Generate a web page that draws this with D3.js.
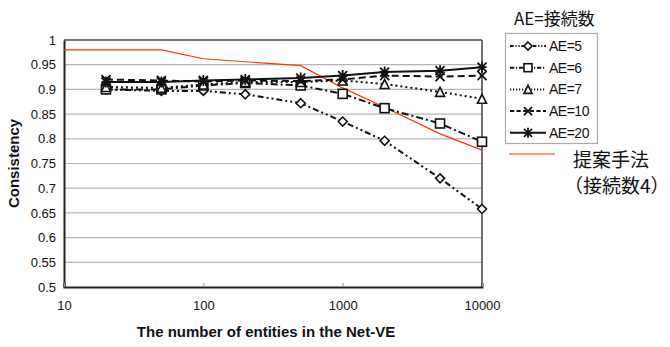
<!DOCTYPE html>
<html>
<head>
<meta charset="utf-8">
<script src="https://cdn.jsdelivr.net/npm/d3@7"></script>
<style>
  body { margin: 0; background: #fff; }
  text { font-family: "Liberation Sans", Arial, sans-serif; }
  .cjk { font-family: "Noto Sans CJK JP", sans-serif; }
</style>
</head>
<body>
<div id="chart"></div>
<script>
const entities = [20, 50, 100, 200, 500, 1000, 2000, 5000, 10000];
const ae5 = [0.900, 0.897, 0.897, 0.890, 0.872, 0.835, 0.796, 0.720, 0.658];
const ae6 = [0.900, 0.900, 0.908, 0.913, 0.908, 0.891, 0.862, 0.831, 0.794];
const ae7 = [0.905, 0.903, 0.910, 0.915, 0.915, 0.918, 0.911, 0.895, 0.881];
const ae10 = [0.920, 0.918, 0.916, 0.918, 0.917, 0.920, 0.928, 0.926, 0.928];
const ae20 = [0.915, 0.915, 0.918, 0.920, 0.923, 0.928, 0.935, 0.938, 0.945];
const proposed_x = [10, 50, 100, 500, 1000, 2000, 5000, 10000];
const proposed_y = [0.980, 0.980, 0.962, 0.948, 0.903, 0.864, 0.810, 0.777];
const y_ticks = [0.5, 0.55, 0.6, 0.65, 0.7, 0.75, 0.8, 0.85, 0.9, 0.95, 1];
const x_ticks = [10, 100, 1000, 10000];

const series = [
  { name: 'AE=5', values: ae5, dash: '6,3,2,3,2,3', marker: 'diamond' },
  { name: 'AE=6', values: ae6, dash: '7,3,2,3', marker: 'square' },
  { name: 'AE=7', values: ae7, dash: '2,3', marker: 'triangle' },
  { name: 'AE=10', values: ae10, dash: '7,4', marker: 'x' },
  { name: 'AE=20', values: ae20, dash: null, marker: 'star' }
];

const margin = { top: 40, left: 64 },
  width = 418,
  height = 247;

const svg = d3.select('#chart')
  .append('svg')
  .attr('width', 670)
  .attr('height', 347);

const g = svg.append('g')
  .attr('transform', 'translate(' + margin.left + ',' + margin.top + ')');

const x = d3.scaleLog().domain([10, 10000]).range([0, width]);
const y = d3.scaleLinear().domain([0.5, 1]).range([height, 0]);

// grid
g.selectAll('.grid')
  .data(y_ticks.slice(1, -1))
  .enter()
  .append('line')
  .attr('x1', 0)
  .attr('x2', width)
  .attr('y1', d => y(d))
  .attr('y2', d => y(d))
  .attr('stroke', '#b4b4b4')
  .attr('stroke-width', 1.2);

// frame
g.append('line').attr('x1', 0).attr('x2', width).attr('y1', 0).attr('y2', 0)
  .attr('stroke', '#777').attr('stroke-width', 2);
g.append('line').attr('x1', width).attr('x2', width).attr('y1', 0).attr('y2', height)
  .attr('stroke', '#444').attr('stroke-width', 1.5);

// axes
const y_axis = g.append('g')
  .call(d3.axisLeft(y).tickValues(y_ticks).tickSize(0).tickPadding(8)
    .tickFormat(d3.format('')));
y_axis.select('.domain').attr('stroke', '#222').attr('stroke-width', 2);
y_axis.selectAll('text').attr('font-size', 13).attr('fill', '#111');

const x_axis = g.append('g')
  .attr('transform', 'translate(0,' + height + ')')
  .call(d3.axisBottom(x).tickValues(x_ticks).tickSize(-4).tickPadding(14)
    .tickFormat(d3.format('')));
x_axis.select('.domain').attr('stroke', '#222').attr('stroke-width', 2);
x_axis.selectAll('line').attr('stroke', '#999');
x_axis.selectAll('text').attr('font-size', 13).attr('fill', '#111');

svg.append('text')
  .attr('transform', 'translate(19,' + (margin.top + height / 2) + ') rotate(-90)')
  .attr('text-anchor', 'middle')
  .attr('font-size', 15)
  .attr('font-weight', 'bold')
  .attr('fill', '#111')
  .text('Consistency');

svg.append('text')
  .attr('x', 266)
  .attr('y', 337)
  .attr('text-anchor', 'middle')
  .attr('font-size', 15)
  .attr('font-weight', 'bold')
  .attr('fill', '#111')
  .text('The number of entities in the Net-VE');

// proposed method
const red_line = d3.line()
  .x((d, i) => x(proposed_x[i]))
  .y(d => y(d));
g.append('path')
  .attr('d', red_line(proposed_y))
  .attr('fill', 'none')
  .attr('stroke', '#ff3300')
  .attr('stroke-width', 1.2);

function drawMarker(sel, type, s) {
  const h = s / 2;
  if (type === 'diamond') {
    sel.append('path').attr('d', 'M0,' + (-h) + 'L' + h + ',0L0,' + h + 'L' + (-h) + ',0Z')
      .attr('fill', '#fff').attr('stroke', '#111').attr('stroke-width', 1.6);
  } else if (type === 'square') {
    sel.append('rect').attr('x', -h).attr('y', -h).attr('width', s).attr('height', s)
      .attr('fill', '#fff').attr('stroke', '#111').attr('stroke-width', 1.6);
  } else if (type === 'triangle') {
    sel.append('path').attr('d', 'M0,' + (-h) + 'L' + h + ',' + h + 'L' + (-h) + ',' + h + 'Z')
      .attr('fill', '#fff').attr('stroke', '#111').attr('stroke-width', 1.6);
  } else if (type === 'x') {
    sel.append('path').attr('d', 'M' + (-h) + ',' + (-h) + 'L' + h + ',' + h + 'M' + h + ',' + (-h) + 'L' + (-h) + ',' + h)
      .attr('stroke', '#111').attr('stroke-width', 1.8);
  } else if (type === 'star') {
    sel.append('path').attr('d', 'M' + (-h) + ',' + (-h) + 'L' + h + ',' + h + 'M' + h + ',' + (-h) + 'L' + (-h) + ',' + h +
      'M0,' + (-h - 1) + 'L0,' + (h + 1) + 'M' + (-h) + ',0L' + h + ',0')
      .attr('stroke', '#111').attr('stroke-width', 1.8);
  }
}

const line = d3.line()
  .x((d, i) => x(entities[i]))
  .y(d => y(d));

series.forEach(function (s) {
  g.append('path')
    .attr('d', line(s.values))
    .attr('fill', 'none')
    .attr('stroke', '#111')
    .attr('stroke-width', 2)
    .attr('stroke-dasharray', s.dash);
  s.values.forEach(function (v, i) {
    const m = g.append('g')
      .attr('transform', 'translate(' + x(entities[i]) + ',' + y(v) + ')');
    drawMarker(m, s.marker, 9);
  });
});

// legend
svg.append('text')
  .attr('class', 'cjk')
  .attr('x', 514)
  .attr('y', 25)
  .attr('font-size', 17)
  .attr('fill', '#111')
  .text('AE=接続数');

svg.append('rect')
  .attr('x', 505.5)
  .attr('y', 33.5)
  .attr('width', 92)
  .attr('height', 110)
  .attr('fill', '#fff')
  .attr('stroke', '#aaa')
  .attr('stroke-width', 1.2);

series.forEach(function (s, i) {
  const ly = 46 + i * 21.7;
  svg.append('line')
    .attr('x1', 510).attr('x2', 546)
    .attr('y1', ly).attr('y2', ly)
    .attr('stroke', '#111')
    .attr('stroke-width', 2)
    .attr('stroke-dasharray', s.dash ? s.dash.split(',').map(d => d * 0.6).join(',') : null);
  const m = svg.append('g').attr('transform', 'translate(528,' + ly + ')');
  drawMarker(m, s.marker, 8);
  svg.append('text')
    .attr('x', 549)
    .attr('y', ly + 5)
    .attr('font-size', 14)
    .attr('letter-spacing', -0.5)
    .attr('fill', '#111')
    .text(s.name);
});

svg.append('line')
  .attr('x1', 509).attr('x2', 555)
  .attr('y1', 154).attr('y2', 154)
  .attr('stroke', '#ff3300')
  .attr('stroke-width', 1.2);

svg.append('text')
  .attr('class', 'cjk')
  .attr('x', 573)
  .attr('y', 167)
  .attr('font-size', 19)
  .attr('fill', '#111')
  .text('提案手法');

svg.append('text')
  .attr('class', 'cjk')
  .attr('x', 564)
  .attr('y', 193)
  .attr('font-size', 19)
  .attr('fill', '#111')
  .text('（接続数4）');
</script>
</body>
</html>
